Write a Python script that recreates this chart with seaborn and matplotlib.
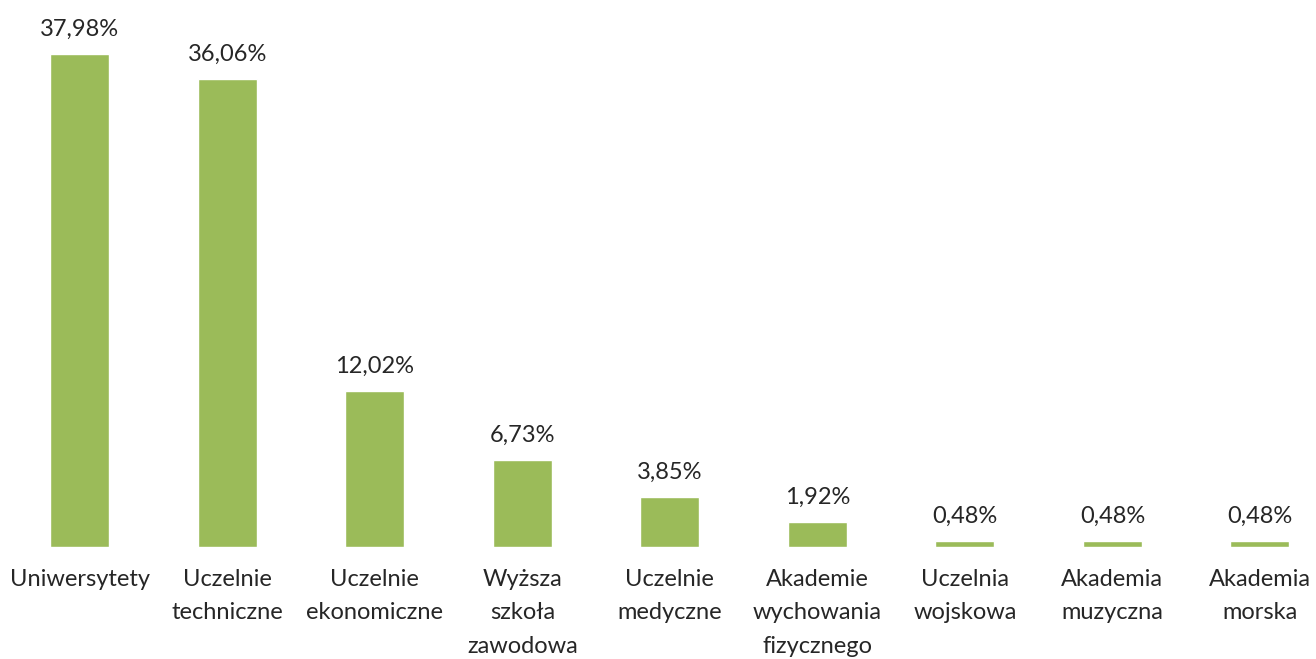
import numpy as np
import pandas as pd
import seaborn as sns
from matplotlib import pyplot as plt

categories = ['Uniwersytety', 'Uczelnie\ntechniczne', 'Uczelnie\nekonomiczne', 'Wyższa\nszkoła\nzawodowa',
              'Uczelnie\nmedyczne', 'Akademie\nwychowania\nfizycznego', 'Uczelnia\nwojskowa',
              'Akademia\nmuzyczna', 'Akademia\nmorska']
shares = [37.98, 36.06, 12.02, 6.73, 3.85, 1.92, 0.48, 0.48, 0.48]

sns.set_style('white')
plt.rcParams['font.family'] = ['Lato', 'DejaVu Sans']

df = pd.DataFrame({'typ': categories, 'udzial': shares})

fig = plt.figure(figsize=(13.16, 6.59), dpi=100)
ax = fig.add_axes([6 / 1316, 112 / 659, 1310 / 1316, 519 / 659])
sns.barplot(data=df, x='typ', y='udzial', color='#9BBB59', saturation=1, width=0.4, ax=ax)

ax.set_xlim(-0.5, 8.38)
ax.set_ylim(0, 40)
for bar, v in zip(ax.patches, shares):
    ax.annotate(f'{v:.2f}%'.replace('.', ','), (bar.get_x() + bar.get_width() / 2, bar.get_height()),
                xytext=(0, 10), textcoords='offset points', ha='center', va='bottom',
                fontsize=17, annotation_clip=False)

ax.set_xlabel('')
ax.set_ylabel('')
ax.set_yticks([])
ax.tick_params(axis='x', length=0, pad=16, labelsize=17)
for lab in ax.get_xticklabels():
    lab.set_linespacing(1.72)
sns.despine(ax=ax, left=True, bottom=True)

fig.savefig('out.png', dpi=100)
